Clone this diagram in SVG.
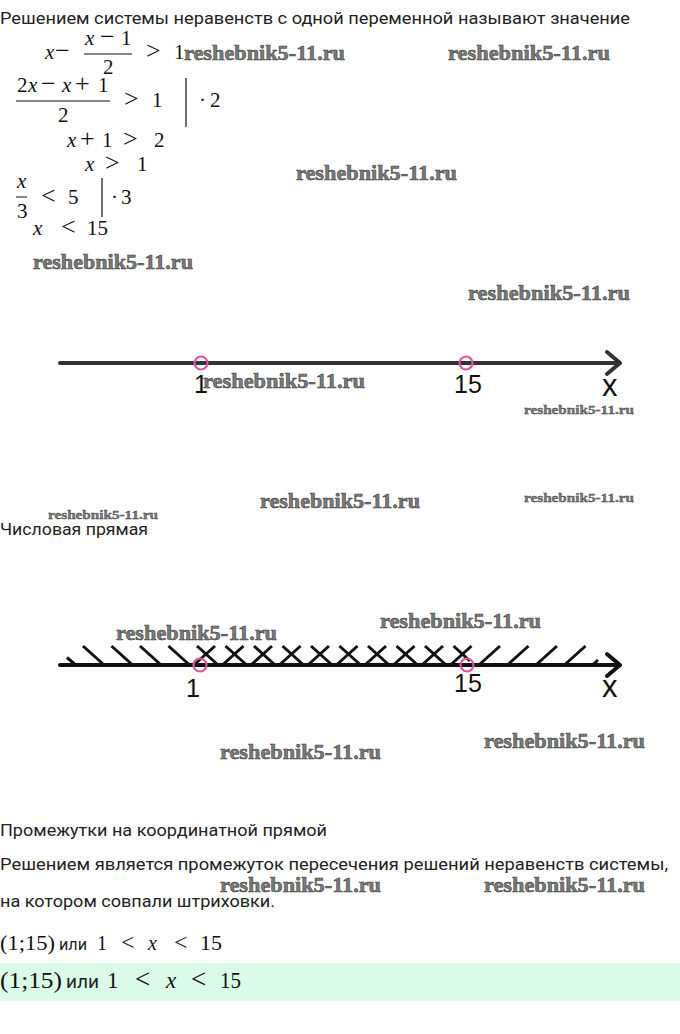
<svg xmlns="http://www.w3.org/2000/svg" width="680" height="1034" viewBox="0 0 680 1034">
<style>
.t{font-family:Roboto,"Noto Sans","Liberation Sans",sans-serif;font-size:16px;fill:#222}
.m{font-family:"Liberation Serif","DejaVu Serif",serif;font-size:21px;fill:#111}
.o{font-size:26px}
.i{font-style:italic}
.w{font-family:"Liberation Serif","DejaVu Serif",serif;font-weight:bold;font-size:20px;fill:#7a7a7a;stroke:#3a3a3a;stroke-width:0.5}
.ws{font-size:13px;stroke-width:0.35}
.lab{font-family:"Liberation Sans",Arial,sans-serif;font-size:25px;fill:#111;text-anchor:middle}
.lx{font-family:"Liberation Sans",Arial,sans-serif;font-size:31px;fill:#111}
.bar{stroke:#111;stroke-width:1}
.vb{stroke:#222;stroke-width:1.3}
.axis1{stroke:#333;stroke-width:4;stroke-linecap:round;fill:none;stroke-linejoin:round}
.axis2{stroke:#111;stroke-width:4;stroke-linecap:round;fill:none;stroke-linejoin:round}
.pt{fill:none;stroke:#e2559f;stroke-width:2.2}
.hatch{stroke:#111;stroke-width:3;fill:none;stroke-linecap:butt}
</style>
<rect width="680" height="1034" fill="#fff"/>
<g id="header">
<text class="t" x="0" y="24" textLength="630" lengthAdjust="spacingAndGlyphs">Решением системы неравенств с одной переменной называют значение</text>
</g>
<g id="math">
<g id="eq1">
<text class="m i" x="45" y="59">x</text>
<text class="m o" x="55" y="59">−</text>
<text class="m i" x="85" y="45">x</text>
<text class="m o" x="100" y="45">−</text>
<text class="m" x="121" y="45">1</text>
<line class="bar" x1="84" y1="54" x2="132" y2="54"/>
<text class="m" x="103" y="74">2</text>
<text class="m o" x="146" y="59">&gt;</text>
<text class="m" x="174" y="59">1</text>
</g>
<g id="eq2">
<text class="m" x="17" y="92">2</text>
<text class="m i" x="28" y="92">x</text>
<text class="m o" x="41" y="92">−</text>
<text class="m i" x="62" y="92">x</text>
<text class="m o" x="75" y="92">+</text>
<text class="m" x="98" y="92">1</text>
<line class="bar" x1="16" y1="101" x2="110" y2="101"/>
<text class="m" x="58" y="122">2</text>
<text class="m o" x="124" y="107">&gt;</text>
<text class="m" x="152" y="107">1</text>
<line class="vb" x1="186" y1="78" x2="186" y2="127"/>
<text class="m" x="199" y="107">·</text>
<text class="m" x="210" y="107">2</text>
</g>
<g id="eq3">
<text class="m i" x="67" y="147">x</text>
<text class="m o" x="80" y="147">+</text>
<text class="m" x="102" y="147">1</text>
<text class="m o" x="123" y="147">&gt;</text>
<text class="m" x="154" y="147">2</text>
</g>
<g id="eq4">
<text class="m i" x="85" y="171">x</text>
<text class="m o" x="105" y="171">&gt;</text>
<text class="m" x="137" y="171">1</text>
</g>
<g id="eq5">
<text class="m i" x="17" y="188">x</text>
<line class="bar" x1="16" y1="197" x2="27" y2="197"/>
<text class="m" x="17" y="218">3</text>
<text class="m o" x="41" y="204">&lt;</text>
<text class="m" x="68" y="204">5</text>
<line class="vb" x1="102" y1="178" x2="102" y2="217"/>
<text class="m" x="111" y="204">·</text>
<text class="m" x="121" y="204">3</text>
</g>
<g id="eq6">
<text class="m i" x="33" y="235">x</text>
<text class="m o" x="61" y="235">&lt;</text>
<text class="m" x="87" y="235">15</text>
</g>
</g>
<g id="numberline1">
<path class="axis1" d="M60 363 H619 M607 352 L620 363 L607 374"/>
<circle class="pt" cx="201" cy="363" r="6.5"/>
<circle class="pt" cx="466" cy="363" r="6.5"/>
<text class="lab" x="201" y="393">1</text>
<text class="lab" x="468" y="393">15</text>
<text class="lx" x="602" y="396">x</text>
</g>
<g id="caption1">
<text class="t" x="0" y="535" textLength="148" lengthAdjust="spacingAndGlyphs">Числовая прямая</text>
</g>
<g id="numberline2">
<g id="hatching">
<path class="hatch" d="M67 657.5 L74.5 664 M83 646 L103 664 M111.5 646 L131.5 664 M140 646 L160 664 M168.5 646 L188.5 664 M197 646 L217 664 M225.5 646 L245.5 664 M254 646 L274 664 M282.5 646 L302.5 664 M311 646 L331 664 M339.5 646 L359.5 664 M368 646 L388 664 M396.5 646 L416.5 664 M425 646 L445 664 M453.5 646 L470 661"/>
<path class="hatch" d="M195 664 L215 646 M223.5 664 L243.5 646 M252 664 L272 646 M280.5 664 L300.5 646 M309 664 L329 646 M337.5 664 L357.5 646 M366 664 L386 646 M394.5 664 L414.5 646 M423 664 L443 646 M451.5 664 L471.5 646 M480 664 L500 646 M508.5 664 L528.5 646 M537 664 L557 646 M565.5 664 L585.5 646 M593.5 664 L598 660"/>
</g>
<path class="axis2" d="M60 665 H619 M607 654 L620 665 L607 676"/>
<circle class="pt" cx="200" cy="665" r="6.5"/>
<circle class="pt" cx="467" cy="665" r="6.5"/>
<text class="lab" x="193" y="697">1</text>
<text class="lab" x="468" y="692">15</text>
<text class="lx" x="602" y="697">x</text>
</g>
<g id="caption2">
<text class="t" x="0" y="836" textLength="327" lengthAdjust="spacingAndGlyphs">Промежутки на координатной прямой</text>
<text class="t" x="0" y="870" textLength="668" lengthAdjust="spacingAndGlyphs">Решением является промежуток пересечения решений неравенств системы,</text>
<text class="t" x="0" y="907" textLength="275" lengthAdjust="spacingAndGlyphs">на котором совпали штриховки.</text>
</g>
<g id="answer1">
<text class="m" x="0" y="950" style="font-size:20px" textLength="55" lengthAdjust="spacingAndGlyphs">(1;15)</text>
<text class="t" x="59" y="950" style="font-size:16px" textLength="28" lengthAdjust="spacingAndGlyphs">или</text>
<text class="m" x="97" y="950" style="font-size:20px">1</text>
<text class="m" x="121" y="950" style="font-size:24px">&lt;</text>
<text class="m i" x="148" y="950" style="font-size:20px">x</text>
<text class="m" x="174" y="950" style="font-size:24px">&lt;</text>
<text class="m" x="200" y="950" style="font-size:20px" textLength="22" lengthAdjust="spacingAndGlyphs">15</text>
</g>
<g id="answer2">
<rect x="0" y="963" width="680" height="38" fill="#dafbe8"/>
<text class="m" x="0" y="988" style="font-size:23px" textLength="62" lengthAdjust="spacingAndGlyphs">(1;15)</text>
<text class="t" x="66" y="988" style="font-size:18px" textLength="33" lengthAdjust="spacingAndGlyphs">или</text>
<text class="m" x="107" y="988" style="font-size:23px">1</text>
<text class="m" x="135" y="988" style="font-size:27px">&lt;</text>
<text class="m i" x="166" y="988" style="font-size:23px">x</text>
<text class="m" x="191" y="988" style="font-size:27px">&lt;</text>
<text class="m" x="220" y="988" style="font-size:23px" textLength="21" lengthAdjust="spacingAndGlyphs">15</text>
</g>
<g id="watermarks">
<text class="w" x="184" y="60" textLength="161" lengthAdjust="spacingAndGlyphs">reshebnik5-11.ru</text>
<text class="w" x="448" y="60" textLength="162" lengthAdjust="spacingAndGlyphs">reshebnik5-11.ru</text>
<text class="w" x="296" y="180" textLength="161" lengthAdjust="spacingAndGlyphs">reshebnik5-11.ru</text>
<text class="w" x="33" y="269" textLength="160" lengthAdjust="spacingAndGlyphs">reshebnik5-11.ru</text>
<text class="w" x="468" y="300" textLength="162" lengthAdjust="spacingAndGlyphs">reshebnik5-11.ru</text>
<text class="w" x="203" y="388" textLength="162" lengthAdjust="spacingAndGlyphs">reshebnik5-11.ru</text>
<text class="w ws" x="524" y="414" textLength="110" lengthAdjust="spacingAndGlyphs">reshebnik5-11.ru</text>
<text class="w" x="260" y="508" textLength="160" lengthAdjust="spacingAndGlyphs">reshebnik5-11.ru</text>
<text class="w ws" x="524" y="502" textLength="110" lengthAdjust="spacingAndGlyphs">reshebnik5-11.ru</text>
<text class="w ws" x="48" y="519" textLength="110" lengthAdjust="spacingAndGlyphs">reshebnik5-11.ru</text>
<text class="w" x="116" y="640" textLength="161" lengthAdjust="spacingAndGlyphs">reshebnik5-11.ru</text>
<text class="w" x="380" y="628" textLength="161" lengthAdjust="spacingAndGlyphs">reshebnik5-11.ru</text>
<text class="w" x="220" y="759" textLength="161" lengthAdjust="spacingAndGlyphs">reshebnik5-11.ru</text>
<text class="w" x="484" y="748" textLength="161" lengthAdjust="spacingAndGlyphs">reshebnik5-11.ru</text>
<text class="w" x="220" y="892" textLength="161" lengthAdjust="spacingAndGlyphs">reshebnik5-11.ru</text>
<text class="w" x="484" y="892" textLength="161" lengthAdjust="spacingAndGlyphs">reshebnik5-11.ru</text>
</g>
</svg>
